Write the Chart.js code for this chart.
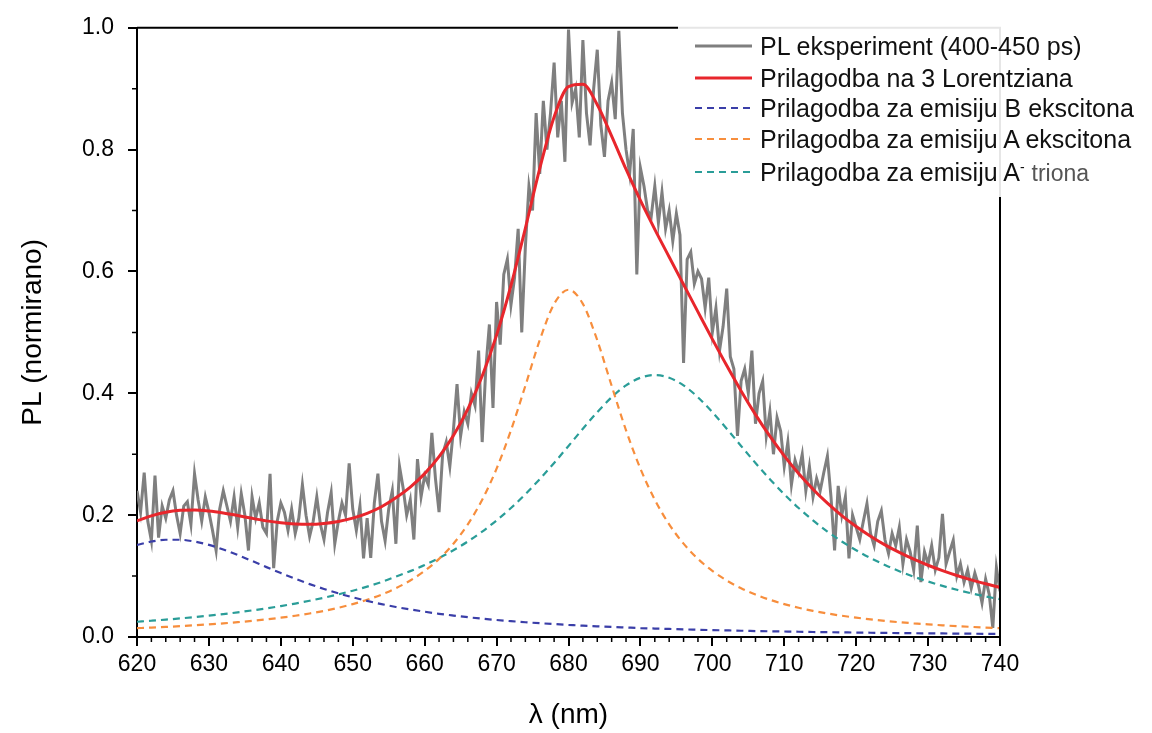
<!DOCTYPE html>
<html>
<head>
<meta charset="utf-8">
<title>PL spektar</title>
<script src="https://cdn.jsdelivr.net/npm/chart.js@4.4.1/dist/chart.umd.min.js"></script>
<style>
    body { margin: 0; background: #fff; }
    #wrap { position: relative; width: 1152px; height: 733px; }
    #legend {
        position: absolute; left: 678px; top: 17px; width: 474px; height: 180px;
        background: rgba(255, 255, 255, 0.9);
        font-family: 'Liberation Sans', Arial, sans-serif; font-size: 25px; color: #111;
    }
    #legend .row { position: absolute; left: 0; height: 30px; display: flex; align-items: center; white-space: nowrap; }
    #legend svg { margin-left: 17px; margin-right: 8px; }
    #legend sup { font-size: 14px; }
    #legend .dim { color: #555; font-size: 23px; }
</style>
</head>
<body>
<div id="wrap">
    <canvas id="plChart" width="1152" height="733"></canvas>
    <div id="legend"></div>
</div>
<script>
// ============ Data ============
const wavelengthStart = 620;   // nm, first sample of the measured spectrum
const wavelengthStep = 0.5;    // nm between measured samples

// PL eksperiment (400-450 ps), 620.0 ... 740.0 nm
const plExperiment = [
    0.240, 0.205, 0.270, 0.190, 0.158, 0.265, 0.163, 0.215, 0.195, 0.225,
    0.240, 0.200, 0.170, 0.215, 0.222, 0.185, 0.268, 0.225, 0.190, 0.230,
    0.205, 0.175, 0.142, 0.210, 0.240, 0.215, 0.190, 0.230, 0.180, 0.235,
    0.200, 0.142, 0.230, 0.195, 0.220, 0.180, 0.170, 0.268, 0.113, 0.190,
    0.220, 0.205, 0.175, 0.210, 0.170, 0.195, 0.250, 0.200, 0.165, 0.190,
    0.230, 0.185, 0.160, 0.205, 0.237, 0.153, 0.190, 0.220, 0.200, 0.285,
    0.210, 0.175, 0.215, 0.129, 0.195, 0.130, 0.220, 0.268, 0.190, 0.158,
    0.210, 0.240, 0.153, 0.280, 0.245, 0.200, 0.225, 0.160, 0.292, 0.230,
    0.265, 0.250, 0.335, 0.260, 0.205, 0.300, 0.320, 0.280, 0.340, 0.415,
    0.330, 0.370, 0.350, 0.400, 0.380, 0.470, 0.320, 0.440, 0.513, 0.376,
    0.550, 0.480, 0.595, 0.620, 0.545, 0.590, 0.670, 0.500, 0.640, 0.740,
    0.700, 0.860, 0.760, 0.880, 0.800, 0.860, 0.943, 0.820, 0.880, 0.780,
    0.997, 0.877, 0.900, 0.820, 0.980, 0.860, 0.807, 0.900, 0.964, 0.840,
    0.788, 0.880, 0.910, 0.850, 0.995, 0.860, 0.800, 0.760, 0.834, 0.595,
    0.770, 0.740, 0.700, 0.690, 0.740, 0.680, 0.730, 0.670, 0.700, 0.650,
    0.695, 0.660, 0.450, 0.620, 0.632, 0.580, 0.600, 0.588, 0.540, 0.590,
    0.500, 0.540, 0.470, 0.510, 0.572, 0.460, 0.440, 0.330, 0.420, 0.440,
    0.400, 0.470, 0.350, 0.400, 0.420, 0.330, 0.370, 0.300, 0.360, 0.338,
    0.280, 0.320, 0.250, 0.290, 0.270, 0.300, 0.240, 0.280, 0.230, 0.260,
    0.240, 0.270, 0.297, 0.230, 0.142, 0.248, 0.200, 0.230, 0.129, 0.200,
    0.180, 0.160, 0.190, 0.219, 0.170, 0.150, 0.190, 0.207, 0.160, 0.137,
    0.170, 0.150, 0.180, 0.120, 0.160, 0.140, 0.110, 0.183, 0.090, 0.140,
    0.120, 0.150, 0.110, 0.130, 0.202, 0.120, 0.140, 0.159, 0.100, 0.120,
    0.090, 0.110, 0.080, 0.105, 0.085, 0.056, 0.095, 0.070, 0.015, 0.114,
    0.075
];

const fitStart = 620;  // nm
const fitStep = 2;     // nm between fit samples

// Prilagodba na 3 Lorentziana
const fitTotal = [
    0.1907, 0.1989, 0.2047, 0.2079, 0.2086, 0.2069, 0.2036, 0.1994, 0.1948, 0.1906,
    0.1874, 0.1854, 0.1849, 0.1863, 0.1896, 0.1951, 0.2030, 0.2138, 0.2284, 0.2461,
    0.2682, 0.2960, 0.3308, 0.3742, 0.4285, 0.4956, 0.5770, 0.6709, 0.7688, 0.8537,
    0.9035, 0.9073, 0.8737, 0.8223, 0.7679, 0.7166, 0.6692, 0.6237, 0.5787, 0.5337,
    0.4889, 0.4455, 0.4039, 0.3651, 0.3296, 0.2974, 0.2683, 0.2425, 0.2196, 0.1993,
    0.1814, 0.1655, 0.1513, 0.1389, 0.1277, 0.1178, 0.1089, 0.1009, 0.0938, 0.0873,
    0.0815
];

// Prilagodba za emisiju B ekscitona
const fitBExciton = [
    0.1512, 0.1567, 0.1596, 0.1596, 0.1567, 0.1512, 0.1436, 0.1346, 0.1248, 0.1147,
    0.1049, 0.0956, 0.0868, 0.0789, 0.0716, 0.0651, 0.0592, 0.0540, 0.0493, 0.0452,
    0.0415, 0.0381, 0.0352, 0.0325, 0.0301, 0.0279, 0.0260, 0.0242, 0.0226, 0.0212,
    0.0199, 0.0186, 0.0175, 0.0165, 0.0156, 0.0147, 0.0139, 0.0132, 0.0125, 0.0119,
    0.0113, 0.0108, 0.0103, 0.0098, 0.0094, 0.0090, 0.0086, 0.0082, 0.0079, 0.0076,
    0.0073, 0.0070, 0.0067, 0.0065, 0.0062, 0.0060, 0.0058, 0.0056, 0.0054, 0.0052,
    0.0050
];

// Prilagodba za emisiju A ekscitona
const fitAExciton = [
    0.0145, 0.0155, 0.0166, 0.0178, 0.0192, 0.0207, 0.0224, 0.0243, 0.0264, 0.0289,
    0.0317, 0.0349, 0.0386, 0.0429, 0.0480, 0.0540, 0.0611, 0.0696, 0.0800, 0.0928,
    0.1085, 0.1283, 0.1532, 0.1849, 0.2253, 0.2763, 0.3393, 0.4123, 0.4871, 0.5468,
    0.5700, 0.5468, 0.4871, 0.4123, 0.3393, 0.2763, 0.2253, 0.1849, 0.1532, 0.1283,
    0.1085, 0.0928, 0.0800, 0.0696, 0.0611, 0.0540, 0.0480, 0.0429, 0.0386, 0.0349,
    0.0317, 0.0289, 0.0264, 0.0243, 0.0224, 0.0207, 0.0192, 0.0178, 0.0166, 0.0155,
    0.0145
];

// Prilagodba za emisiju A- triona
const fitTrion = [
    0.0250, 0.0267, 0.0285, 0.0305, 0.0327, 0.0350, 0.0376, 0.0405, 0.0436, 0.0470,
    0.0508, 0.0549, 0.0595, 0.0645, 0.0700, 0.0760, 0.0827, 0.0902, 0.0991, 0.1081,
    0.1182, 0.1296, 0.1424, 0.1568, 0.1731, 0.1914, 0.2117, 0.2344, 0.2591, 0.2857,
    0.3136, 0.3419, 0.3691, 0.3935, 0.4130, 0.4256, 0.4300, 0.4256, 0.4130, 0.3935,
    0.3691, 0.3419, 0.3136, 0.2857, 0.2591, 0.2344, 0.2117, 0.1914, 0.1731, 0.1568,
    0.1424, 0.1296, 0.1182, 0.1081, 0.0991, 0.0911, 0.0839, 0.0775, 0.0718, 0.0666,
    0.0620
];

const xTickValues = [620, 630, 640, 650, 660, 670, 680, 690, 700, 710, 720, 730, 740];
const yTickValues = [0, 0.2, 0.4, 0.6, 0.8, 1.0];

const FONT = "'Liberation Sans', Arial, sans-serif";

const toPoints = (arr, start, step) => arr.map((v, i) => ({ x: start + i * step, y: v }));

const series = [
    { label: 'PL eksperiment (400-450 ps)', data: toPoints(plExperiment, wavelengthStart, wavelengthStep), color: '#7f7f7f', width: 3, dash: [], order: 3 },
    { label: 'Prilagodba na 3 Lorentziana', data: toPoints(fitTotal, fitStart, fitStep), color: '#e8262c', width: 3, dash: [], order: 1 },
    { label: 'Prilagodba za emisiju B ekscitona', data: toPoints(fitBExciton, fitStart, fitStep), color: '#3a3ea8', width: 2.2, dash: [7, 5], order: 2 },
    { label: 'Prilagodba za emisiju A ekscitona', data: toPoints(fitAExciton, fitStart, fitStep), color: '#f78e3d', width: 2.2, dash: [7, 5], order: 2 },
    { label: 'Prilagodba za emisiju A⁻ triona', data: toPoints(fitTrion, fitStart, fitStep), color: '#2a9d98', width: 2.2, dash: [7, 5], order: 2 }
];

// top / right frame and the short minor ticks (not built into Chart.js)
const frameAndMinorTicks = {
    id: 'frameAndMinorTicks',
    afterDraw(chart) {
        const { ctx, chartArea: a, scales: { x, y } } = chart;
        ctx.save();
        ctx.strokeStyle = '#000';
        ctx.lineWidth = 2;
        ctx.beginPath();
        ctx.moveTo(a.left, a.top);
        ctx.lineTo(a.right, a.top);
        ctx.lineTo(a.right, a.bottom);
        ctx.stroke();

        ctx.lineWidth = 1.5;
        ctx.beginPath();
        for (let v = 622; v < 740; v += 2) {
            if (v % 10 === 0) continue;
            const px = x.getPixelForValue(v);
            ctx.moveTo(px, a.bottom);
            ctx.lineTo(px, a.bottom + 5);
        }
        [0.1, 0.3, 0.5, 0.7, 0.9].forEach((v) => {
            const py = y.getPixelForValue(v);
            ctx.moveTo(a.left, py);
            ctx.lineTo(a.left - 5, py);
        });
        ctx.stroke();
        ctx.restore();
    }
};

new Chart(document.getElementById('plChart'), {
    type: 'line',
    data: {
        datasets: series.map((s) => ({
            label: s.label,
            data: s.data,
            borderColor: s.color,
            borderWidth: s.width,
            borderDash: s.dash,
            pointRadius: 0,
            tension: 0,
            fill: false,
            order: s.order,
            cubicInterpolationMode: s.order === 3 ? 'default' : 'monotone'
        }))
    },
    options: {
        responsive: false,
        animation: false,
        layout: { padding: { top: 25, right: 152, left: 0, bottom: 0 } },
        plugins: { legend: { display: false }, tooltip: { enabled: false } },
        scales: {
            x: {
                type: 'linear',
                min: 620,
                max: 740,
                afterBuildTicks: (s) => { s.ticks = xTickValues.map((v) => ({ value: v })); },
                afterFit: (s) => { s.height = 96; },
                border: { color: '#000', width: 2 },
                grid: { drawOnChartArea: false, drawTicks: true, tickLength: 9, color: '#000', lineWidth: 2 },
                ticks: { color: '#000', font: { family: FONT, size: 23 }, padding: 5, maxRotation: 0, autoSkip: false },
                title: { display: true, text: 'λ (nm)', color: '#000', font: { family: FONT, size: 28 }, padding: { top: 0, bottom: 1 } }
            },
            y: {
                min: 0,
                max: 1,
                afterBuildTicks: (s) => { s.ticks = yTickValues.map((v) => ({ value: v })); },
                afterFit: (s) => { s.width = 137; },
                border: { color: '#000', width: 2 },
                grid: { drawOnChartArea: false, drawTicks: true, tickLength: 9, color: '#000', lineWidth: 2 },
                ticks: { color: '#000', font: { family: FONT, size: 23 }, padding: 14, callback: (v) => v.toFixed(1) },
                title: { display: true, text: 'PL (normirano)', color: '#000', font: { family: FONT, size: 28 }, padding: { top: 16, bottom: 0 } }
            }
        }
    },
    plugins: [frameAndMinorTicks]
});

// ============ Legend (HTML, over the top-right corner) ============
const legend = document.getElementById('legend');
const rowTops = [14, 46, 76, 107, 140];
series.forEach((s, i) => {
    const row = document.createElement('div');
    row.className = 'row';
    row.style.top = rowTops[i] + 'px';
    const dash = s.dash.length ? ` stroke-dasharray="${s.dash.join(' ')}"` : '';
    let text = s.label;
    if (text.includes('A⁻')) {
        text = 'Prilagodba za emisiju A<sup>-</sup> <span class="dim">triona</span>';
    }
    row.innerHTML = `<svg width="57" height="4"><line x1="0" y1="2" x2="57" y2="2" stroke="${s.color}" stroke-width="${s.width}"${dash}/></svg><span>${text}</span>`;
    legend.appendChild(row);
});
</script>
</body>
</html>
